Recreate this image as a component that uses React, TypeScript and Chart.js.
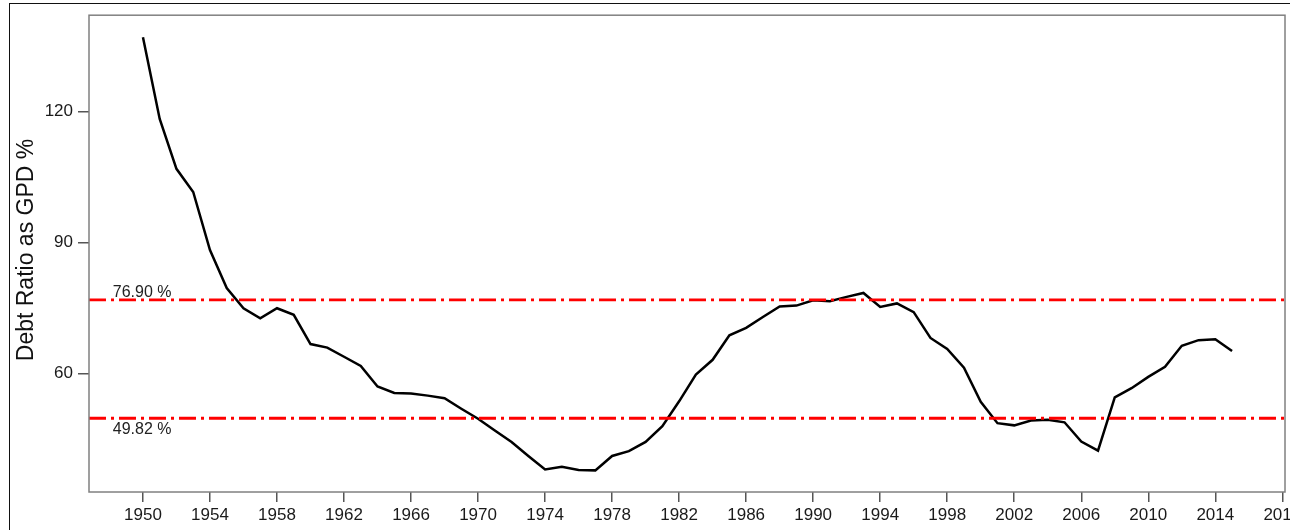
import { useEffect, useRef } from 'react';
import { Chart, registerables } from 'chart.js';

Chart.register(...registerables);

const years = [
  1950, 1951, 1952, 1953, 1954, 1955, 1956, 1957, 1958, 1959,
  1960, 1961, 1962, 1963, 1964, 1965, 1966, 1967, 1968, 1969,
  1970, 1971, 1972, 1973, 1974, 1975, 1976, 1977, 1978, 1979,
  1980, 1981, 1982, 1983, 1984, 1985, 1986, 1987, 1988, 1989,
  1990, 1991, 1992, 1993, 1994, 1995, 1996, 1997, 1998, 1999,
  2000, 2001, 2002, 2003, 2004, 2005, 2006, 2007, 2008, 2009,
  2010, 2011, 2012, 2013, 2014, 2015,
];

const debtRatio = [
  137.0, 118.3, 106.9, 101.6, 88.3, 79.6, 75.0, 72.7, 75.0, 73.5,
  66.8, 66.0, 63.9, 61.8, 57.1, 55.6, 55.5, 55.0, 54.4, 52.0,
  49.7, 47.0, 44.4, 41.2, 38.1, 38.7, 38.0, 37.9, 41.2, 42.3,
  44.4, 48.0, 53.7, 59.8, 63.2, 68.8, 70.5, 73.0, 75.4, 75.6,
  76.8, 76.6, 77.6, 78.5, 75.3, 76.1, 74.1, 68.2, 65.7, 61.4,
  53.6, 48.7, 48.2, 49.3, 49.5, 48.9, 44.5, 42.4, 54.6, 56.7,
  59.3, 61.6, 66.4, 67.7, 67.9, 65.2,
];

const thresholds = [76.9, 49.82];
const thresholdLabels = ['76.90 %', '49.82 %'];

const xTicks = [1950, 1954, 1958, 1962, 1966, 1970, 1974, 1978, 1982, 1986, 1990, 1994, 1998, 2002, 2006, 2010, 2014, 2018];
const yTicks = [60, 90, 120];

const X_MIN = 1946.78;
const X_MAX = 2018.16;
const Y_MIN = 32.95;
const Y_MAX = 142.05;

const yTitle = 'Debt Ratio as GPD %';
const FONT = '"Liberation Sans", Arial, sans-serif';

export default function App() {
  const canvasRef = useRef<HTMLCanvasElement | null>(null);

  useEffect(() => {
    const canvas = canvasRef.current;
    if (!canvas) return;

    const decorations = {
      id: 'decorations',
      afterDraw(chart: any) {
        const { ctx, chartArea, scales } = chart;
        ctx.save();
        // plot box
        ctx.strokeStyle = '#808080';
        ctx.lineWidth = 1.5;
        ctx.strokeRect(chartArea.left, chartArea.top, chartArea.right - chartArea.left, chartArea.bottom - chartArea.top);
        // threshold labels
        ctx.fillStyle = '#222';
        ctx.font = `16px ${FONT}`;
        ctx.textAlign = 'left';
        ctx.textBaseline = 'middle';
        const lx = scales.x.getPixelForValue(1948.2);
        ctx.fillText(thresholdLabels[0], lx, scales.y.getPixelForValue(thresholds[0]) - 7);
        ctx.fillText(thresholdLabels[1], lx, scales.y.getPixelForValue(thresholds[1]) + 11);
        // y axis title
        ctx.translate(27, 250);
        ctx.rotate(-Math.PI / 2);
        ctx.textAlign = 'center';
        ctx.textBaseline = 'middle';
        ctx.font = `23px ${FONT}`;
        ctx.fillStyle = '#111';
        ctx.fillText(yTitle, 0, 0);
        ctx.restore();
      },
    };

    const refDataset = (v: number) => ({
      data: [{ x: X_MIN, y: v }, { x: X_MAX, y: v }],
      borderColor: '#ff0000',
      borderWidth: 2.8,
      borderDash: [17, 5, 3, 5],
      pointRadius: 0,
      fill: false,
    });

    const chart = new Chart(canvas, {
      type: 'line',
      data: {
        datasets: [
          refDataset(thresholds[0]),
          refDataset(thresholds[1]),
          {
            data: years.map((y, i) => ({ x: y, y: debtRatio[i] })),
            borderColor: '#000',
            borderWidth: 2.5,
            pointRadius: 0,
            tension: 0,
            fill: false,
          },
        ],
      },
      options: {
        animation: false,
        responsive: false,
        devicePixelRatio: 1,
        layout: { padding: { left: 0, top: 12, right: 35, bottom: 0 } },
        plugins: { legend: { display: false }, tooltip: { enabled: false } },
        scales: {
          x: {
            type: 'linear',
            min: X_MIN,
            max: X_MAX,
            afterBuildTicks: (s: any) => {
              s.ticks = xTicks.map((v) => ({ value: v }));
            },
            afterFit: (s: any) => {
              s.height = 38;
            },
            ticks: {
              autoSkip: false,
              maxRotation: 0,
              padding: 3,
              color: '#1a1a1a',
              font: { size: 17, family: FONT },
              callback: (v: any) => String(v),
            },
            grid: { drawOnChartArea: false, drawTicks: true, tickLength: 10, color: '#555', lineWidth: 1.5 },
            border: { display: false },
          },
          y: {
            type: 'linear',
            min: Y_MIN,
            max: Y_MAX,
            afterBuildTicks: (s: any) => {
              s.ticks = yTicks.map((v) => ({ value: v }));
            },
            afterFit: (s: any) => {
              s.width = 89;
            },
            ticks: {
              autoSkip: false,
              padding: 5,
              color: '#1a1a1a',
              font: { size: 17, family: FONT },
              callback: (v: any) => String(v),
            },
            grid: { drawOnChartArea: false, drawTicks: true, tickLength: 11, color: '#555', lineWidth: 1.5 },
            border: { display: false },
          },
        },
      },
      plugins: [decorations],
    });

    return () => chart.destroy();
  }, []);

  return (
    <div style={{ position: 'fixed', left: 0, top: 0, width: 1290, height: 530, overflow: 'hidden', background: '#fff' }}>
      <canvas ref={canvasRef} width={1320} height={530} style={{ position: 'absolute', left: 0, top: 0, width: 1320, height: 530 }} />
      <div
        style={{
          position: 'absolute',
          left: 9,
          top: 3,
          width: 1300,
          height: 540,
          borderLeft: '1.5px solid #111',
          borderTop: '1.5px solid #111',
          pointerEvents: 'none',
        }}
      />
    </div>
  );
}
